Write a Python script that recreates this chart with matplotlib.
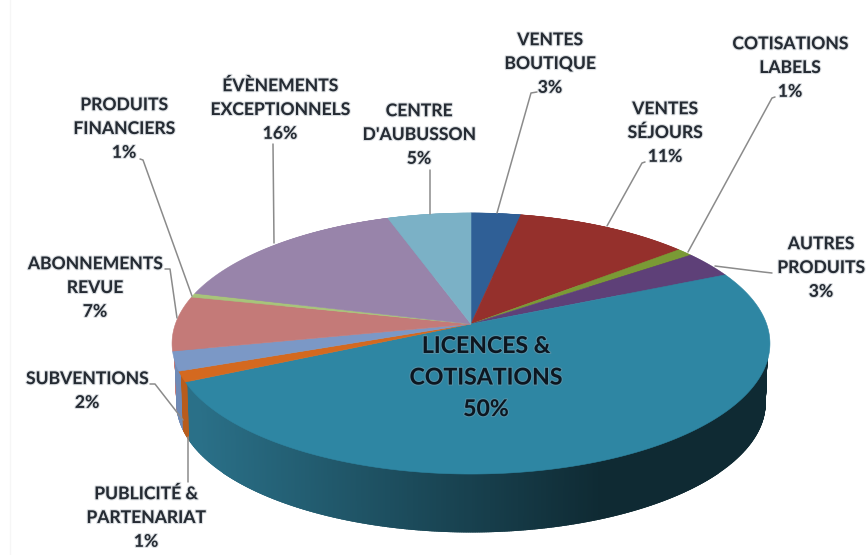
import numpy as np
import matplotlib
matplotlib.use("Agg")
import matplotlib.pyplot as plt
import matplotlib.patheffects as pe
from matplotlib.colors import to_rgb

# --- data (clockwise from the top of the pie) ---
categories = ["VENTES\nBOUTIQUE", "VENTES\nSÉJOURS", "COTISATIONS\nLABELS",
              "AUTRES\nPRODUITS", "LICENCES &\nCOTISATIONS", "PUBLICITÉ &\nPARTENARIAT",
              "SUBVENTIONS", "ABONNEMENTS\nREVUE", "PRODUITS\nFINANCIERS",
              "ÉVÈNEMENTS\nEXCEPTIONNELS", "CENTRE\nD'AUBUSSON"]
# slice sizes; the printed labels are rounded
shares = [3.1, 10.9, 1.0, 3.3, 49.7, 1.3, 2.4, 6.8, 0.5, 15.8, 5.2]
percent_labels = ["3%", "11%", "1%", "3%", "50%", "1%", "2%", "7%", "1%", "16%", "5%"]

# --- style ---
colors = ["#2f5f96", "#95302c", "#7a9a35", "#5e4078", "#2e86a3", "#d4691f",
          "#7b98c6", "#c47a78", "#a8c47a", "#9884aa", "#7bb1c6"]
wall_left = ["#2f5f96", "#95302c", "#7a9a35", "#5e4078", "#2a7088", "#b85c1c",
             "#6f8ab6", "#c47a78", "#a8c47a", "#9884aa", "#7bb1c6"]
wall_right = "#0f2a33"
CX, CY, RX, RY, K = 471.0, 324.0, 295.6, 127.6, 0.1495
DEPTH, SHRINK = 60.0, 0.982

# label centre (x, y of block centre) and leader polyline, in figure pixels
label_pos = [(550, 64), (665, 133), (790, 68), (821, 268), (486, 378), (146, 518),
             (87, 391), (95, 288), (124, 129), (280, 110), (419, 135)]
leaders = [[(537, 92), (531, 93), (497, 213)],
           [(645, 162), (642, 163), (607, 226)],
           [(775, 97), (772, 98), (688, 252)],
           [(772, 273), (763, 272), (715, 266)],
           [],
           [(188, 482), (188, 437)],
           [(150, 384), (155, 384), (183, 420)],
           [(165, 269), (170, 269), (177, 318)],
           [(140, 159), (143, 160), (192, 296)],
           [(273, 144), (274, 243)],
           [(430, 170), (430, 214)]]


def project(theta, r=1.0):
    """Perspective view of a point of the flat pie; theta clockwise from the top."""
    u, v = r * np.sin(theta), r * np.cos(theta)
    d = 1 + K * v
    return CX + RX * u / d, CY - RY * v / d


fig = plt.figure(figsize=(8.66, 5.55), dpi=100, facecolor="white")
ax = fig.add_axes([0, 0, 1, 1])
ax.set_xlim(0, 866)
ax.set_ylim(555, 0)
ax.axis("off")
ax.plot([10, 10], [0, 555], color="#f6f6f6", lw=1, zorder=0)

edges = np.cumsum([0] + shares) / sum(shares) * 2 * np.pi

# side wall, back to front
quads = []
for i in range(len(shares)):
    n = max(6, int(shares[i] * 12))
    t = np.linspace(edges[i], edges[i + 1], n + 1)
    for a, b in zip(t[:-1], t[1:]):
        xa, ya = project(a, 0.99)
        xb, yb = project(b, 0.99)
        x1a, y1a = project(a)
        x1b, y1b = project(b)
        x0a = CX + (x1a - CX) * SHRINK
        x0b = CX + (x1b - CX) * SHRINK
        y0a = CY + (y1a - CY) * SHRINK + DEPTH
        y0b = CY + (y1b - CY) * SHRINK + DEPTH
        mx = (xa + xb) / 2
        f = np.clip((mx - 200) / (600 - 200), 0, 1)
        c = np.array(to_rgb(wall_left[i])) * (1 - f) + np.array(to_rgb(wall_right)) * f
        if i != 4:
            c = to_rgb(wall_left[i])
        quads.append((np.cos((a + b) / 2), [xa, xb, x0b, x0a], [ya, yb, y0b, y0a], c))
for _, qx, qy, c in sorted(quads, key=lambda q: -q[0]):
    ax.fill(qx, qy, color=c, lw=1.6, zorder=1)

# top face
for i, c in enumerate(colors):
    t = np.linspace(edges[i], edges[i + 1], max(4, int(shares[i] * 6)))
    x, y = project(t)
    ax.fill(np.r_[CX, x], np.r_[CY, y], color=c, lw=0.4, zorder=2)

# leaders
for pts in leaders:
    if pts:
        ax.plot(*zip(*pts), color="#8b8b8b", lw=1.1, zorder=3, solid_capstyle="round")

# labels
halo = [pe.withStroke(linewidth=1.6, foreground="#9aa3ad", alpha=0.35)]
for name, pct, (lx, ly), in zip(categories, percent_labels, label_pos):
    big = pct == "50%"
    ax.text(lx, ly, f"{name}\n{pct}", ha="center", va="center", multialignment="center",
            family="Lato", weight="bold", fontsize=16.6 if big else 12.6,
            linespacing=1.62 if big else 1.60, color="#0c1620" if big else "#252b33",
            path_effects=halo, zorder=4)

fig.savefig("out.png", dpi=100, facecolor="white")
